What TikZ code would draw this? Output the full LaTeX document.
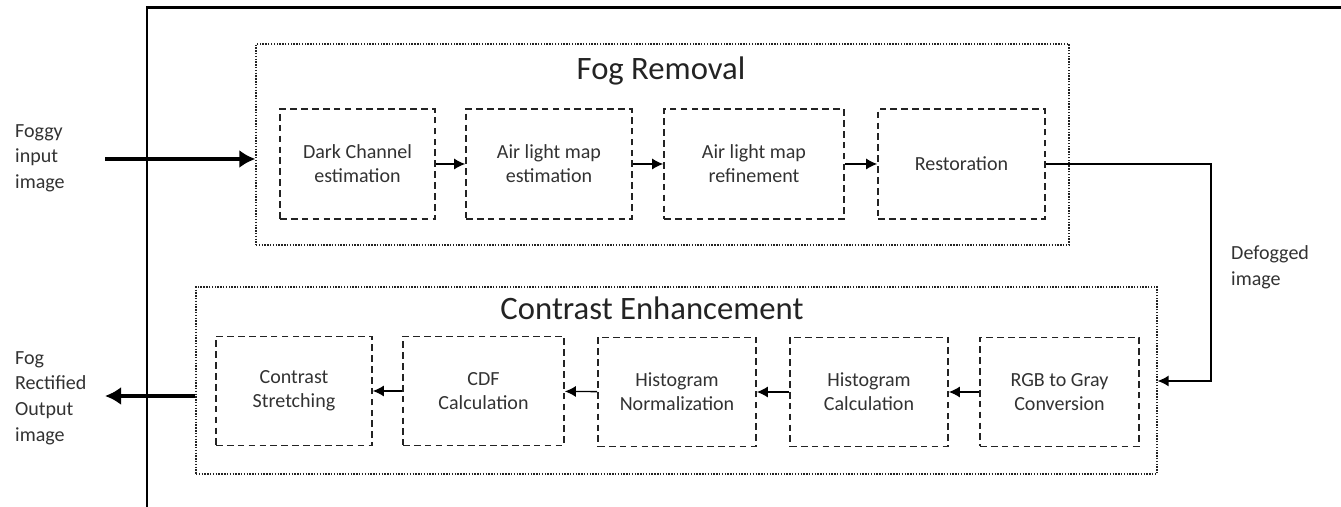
\documentclass[tikz,border=0pt]{standalone}
\usepackage{fontspec}
\setmainfont{Carlito}
\usetikzlibrary{arrows.meta, positioning}
\definecolor{mydark}{RGB}{35,35,35}
\definecolor{mytext}{RGB}{50,50,50}
\tikzset{
  procbox/.style={rectangle, draw=mydark, dash pattern=on 3.8pt off 2.4pt,
    line width=0.9pt, minimum height=2.2cm, align=center,
    font=\fontsize{11.4}{13.8}\selectfont, text=mytext},
  groupbox/.style={rectangle, draw=mydark, dash pattern=on 0.8pt off 0.8pt,
    line width=0.7pt},
  grouptitle/.style={font=\fontsize{18.6}{22}\selectfont, text=mydark},
  sidelabel/.style={anchor=west, align=left,
    font=\fontsize{11.4}{14.6}\selectfont, text=mytext},
  arrow/.style={-{Latex[length=2.2mm, width=2.2mm]}, line width=0.8pt, color=black},
  bigarrow/.style={-{Latex[length=3.2mm, width=3.6mm]}, line width=2.4pt, color=black},
  line/.style={line width=0.9pt, color=mydark},
  frame/.style={line width=1.7pt, color=black}
}
\begin{document}
\begin{tikzpicture}
  \useasboundingbox (0,0) rectangle (26.82,10.14);

  % Outer frame
  \draw[frame] (2.94,0) -- (2.94,9.98) -- (26.82,9.98);

  % Group boxes
  \node[groupbox, minimum width=16.26cm, minimum height=4.02cm] (fr) at (13.25,7.25) {};
  \node[grouptitle] (frtitle) at (13.22,8.72) {Fog Removal};
  \node[groupbox, minimum width=19.22cm, minimum height=3.74cm] (ce) at (13.53,2.53) {};
  \node[grouptitle] (cetitle) at (13.04,3.98) {Contrast Enhancement};

  % Fog removal stages
  \node[procbox, minimum width=3.1cm]  (dc)   at (7.15,6.86)  {Dark Channel\\estimation};
  \node[procbox, minimum width=3.32cm] (ale)  at (10.98,6.86) {Air light map\\estimation};
  \node[procbox, minimum width=3.6cm]  (alr)  at (15.08,6.86) {Air light map\\refinement};
  \node[procbox, minimum width=3.34cm] (rest) at (19.23,6.86) {Restoration};

  % Contrast enhancement stages
  \node[procbox, minimum width=3.12cm, minimum height=2.18cm] (cs)  at (5.88,2.32)  {Contrast\\Stretching};
  \node[procbox, minimum width=3.22cm, minimum height=2.18cm] (cdf) at (9.67,2.32)  {CDF\\Calculation};
  \node[procbox, minimum width=3.16cm, minimum height=2.18cm] (hn)  at (13.54,2.30) {Histogram\\Normalization};
  \node[procbox, minimum width=3.16cm, minimum height=2.18cm] (hc)  at (17.38,2.30) {Histogram\\Calculation};
  \node[procbox, minimum width=3.18cm, minimum height=2.18cm] (rgb) at (21.19,2.30) {RGB to Gray\\Conversion};

  % Side labels
  \node[sidelabel] (inlbl)  at (0.18,6.98) {Foggy\\input\\image};
  \node[sidelabel] (outlbl) at (0.18,2.18) {Fog\\Rectified\\Output\\image};
  \node[sidelabel] (deflbl) at (24.5,4.80) {Defogged\\image};

  % Links
  \draw[arrow] (dc) -- (ale);
  \draw[arrow] (ale) -- (alr);
  \draw[arrow] (alr) -- (rest);
  \draw[arrow] (rgb) -- (hc);
  \draw[arrow] (hc) -- (hn);
  \draw[arrow] (hn) -- (cdf);
  \draw[arrow] (cdf) -- (cs);

  \coordinate (bend) at (24.22,2.52);
  \draw[line, arrow] (rest.east) -| (bend) -- (ce.east |- bend);

  \coordinate (inpt) at (2.1,6.96);
  \coordinate (outpt) at (2.1,2.22);
  \draw[bigarrow] (inpt) -- (fr.west |- inpt);
  \draw[bigarrow] (ce.west |- outpt) -- (outpt);
\end{tikzpicture}
\end{document}
